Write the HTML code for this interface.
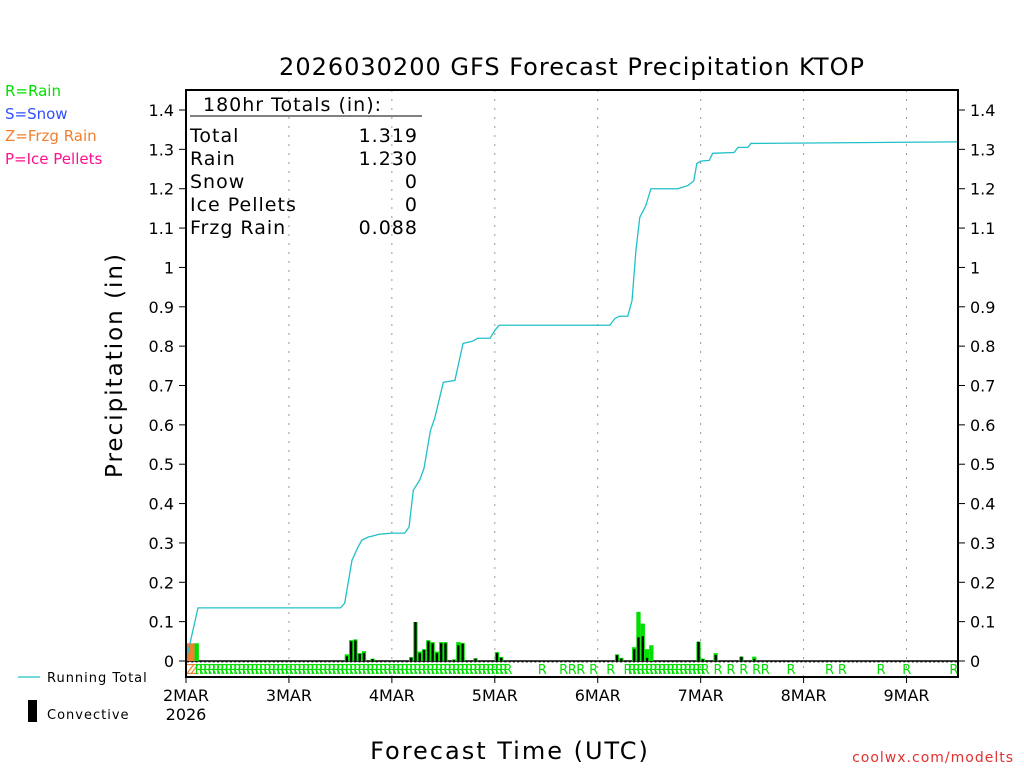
<!DOCTYPE html>
<html><head><meta charset="utf-8"><style>
body{margin:0;background:#fff;width:1024px;height:768px;overflow:hidden}
svg text{font-family:"DejaVu Sans","Liberation Sans",sans-serif}
</style></head><body>
<svg id="c" width="1024" height="768" xmlns="http://www.w3.org/2000/svg">
<text x="572" y="75" text-anchor="middle" font-size="24" fill="#000" letter-spacing="1">2026030200 GFS Forecast Precipitation KTOP</text>
<g font-size="15">
<text x="5" y="96" fill="#00e000">R=Rain</text>
<text x="5" y="119" fill="#3050ff">S=Snow</text>
<text x="5" y="141" fill="#f08030">Z=Frzg Rain</text>
<text x="5" y="164" fill="#ff1090">P=Ice Pellets</text>
</g>
<text transform="translate(122,365) rotate(-90)" text-anchor="middle" font-size="23" letter-spacing="2">Precipitation (in)</text>
<text x="510" y="759" text-anchor="middle" font-size="24" letter-spacing="2">Forecast Time (UTC)</text>
<text x="1014" y="762" text-anchor="end" font-size="14" fill="#e03030" letter-spacing="1">coolwx.com/modelts</text>
<line x1="18" y1="677" x2="40" y2="677" stroke="#20c0c8" stroke-width="1.2"/>
<text x="47" y="682" font-size="13" letter-spacing="1">Running Total</text>
<rect x="28" y="700" width="9" height="22" fill="#000"/>
<text x="47" y="719" font-size="13" letter-spacing="1">Convective</text>
<g id="plot"></g>
<g font-size="19" letter-spacing="1">
<text x="203" y="111">180hr Totals (in):</text>
<line x1="190" y1="116" x2="422" y2="116" stroke="#000"/>
<text x="190" y="142">Total</text><text x="418" y="142" text-anchor="end">1.319</text>
<text x="190" y="165">Rain</text><text x="418" y="165" text-anchor="end">1.230</text>
<text x="190" y="188">Snow</text><text x="418" y="188" text-anchor="end">0</text>
<text x="190" y="211">Ice Pellets</text><text x="418" y="211" text-anchor="end">0</text>
<text x="190" y="234">Frzg Rain</text><text x="418" y="234" text-anchor="end">0.088</text>
</g>
</svg>
<script>
const yTicks=[0,0.1,0.2,0.3,0.4,0.5,0.6,0.7,0.8,0.9,1,1.1,1.2,1.3,1.4];
const dayLabels=["2MAR","3MAR","4MAR","5MAR","6MAR","7MAR","8MAR","9MAR"];
const rainHours=[37,38,39,40,41,43,52,53,54,55,56,57,58,59,60,62,63,64,67,72,73,100,101,104,105,106,107,108,119,120,123,129,132];
const rainTotal=[0.017,0.053,0.055,0.02,0.025,0.006,0.01,0.099,0.024,0.03,0.053,0.048,0.024,0.048,0.048,0.004,0.048,0.046,0.007,0.023,0.01,0.017,0.008,0.035,0.125,0.095,0.03,0.04,0.049,0.006,0.02,0.011,0.011];
const convTotal=[0.012,0.05,0.052,0.018,0.02,0.005,0.008,0.099,0.02,0.028,0.05,0.045,0.02,0.045,0.045,0.003,0.04,0.044,0.006,0.02,0.008,0.015,0.006,0.03,0.06,0.063,0.008,0,0.049,0.004,0.015,0.011,0.005];
const frzgHours=[0,1];
const frzgTotal=[0.045,0.045];
const greenEarlyHours=[2];
const greenEarly=[0.045];
const runHours=[0,2.8,36,37,38.7,40,41,42.5,43.3,45,48,51,52,53,54.5,55.5,57,58,60,62.7,64.6,66.7,68,70.9,72,73,98.8,100,101,103,104,104.9,105.8,107.2,108.4,114.7,117,118.4,119.1,120,122,122.8,127.8,128.7,131,131.7,180];
const runVals=[0,0.135,0.135,0.147,0.256,0.287,0.307,0.315,0.317,0.322,0.325,0.325,0.34,0.434,0.46,0.49,0.586,0.617,0.708,0.713,0.807,0.812,0.82,0.82,0.84,0.853,0.853,0.87,0.876,0.876,0.916,1.043,1.127,1.157,1.2,1.2,1.208,1.22,1.264,1.27,1.272,1.29,1.292,1.305,1.305,1.315,1.319];
const rMarkerHours=[];
for(let h=2;h<=74;h++)rMarkerHours.push(h);
const rSparse=[82,87,89,91,94,98,102,103,104,105,106,107,108,109,110,111,112,113,114,115,116,117,118,119,120,123,126,129,132,134,140,149,152,161,167,178];
const NS="http://www.w3.org/2000/svg";
const L=186,R=958,T=90,B=677,Y0=661,PX=(Y0-110)/1.4;
const X=h=>L+h*(R-L)/180;
const Y=v=>Y0-v*PX;
const g=document.getElementById('plot');
function mk(t,a){const e=document.createElementNS(NS,t);for(const k in a)e.setAttribute(k,a[k]);g.appendChild(e);return e;}
dayLabels.forEach((d,i)=>{const x=X(i*24);
 if(i>0){const l=mk('line',{x1:x,y1:T,x2:x,y2:B,stroke:'#999','stroke-dasharray':'2,7'});
 
 }
 mk('line',{x1:x,y1:B,x2:x,y2:B+6,stroke:'#000'});
 const t=mk('text',{x:x,y:B+24,'text-anchor':'middle','font-size':'16'});t.textContent=d;
 
 
});
const yr=mk('text',{x:L,y:B+43,'text-anchor':'middle','font-size':'16'});yr.textContent='2026';


yTicks.forEach(v=>{const y=Y(v);const lab=(v===0||v===1)?String(v):v.toFixed(1);
 mk('line',{x1:L-7,y1:y,x2:L,y2:y,stroke:'#000'});mk('line',{x1:R,y1:y,x2:R+7,y2:y,stroke:'#000'});
 const a=mk('text',{x:L-12,y:y+6,'text-anchor':'end','font-size':'16'});a.textContent=lab;
 
 
 const b=mk('text',{x:R+12,y:y+6,'font-size':'16'});b.textContent=lab;
 
 
});
for(let h=0;h<180;h++){mk('line',{x1:X(h)+1,y1:Y0+1,x2:X(h)+3,y2:Y0+1,stroke:'#333','stroke-width':1});}
mk('line',{x1:L,y1:Y0,x2:R,y2:Y0,stroke:'#000','stroke-width':1.5});
const bw=(R-L)/180;
frzgHours.forEach((h,i)=>{const r=mk('rect',{x:X(h),y:Y(frzgTotal[i]),width:bw+0.3,height:Y0-Y(frzgTotal[i]),fill:'#f08030'});
 
 });
greenEarlyHours.forEach((h,i)=>{const r=mk('rect',{x:X(h),y:Y(greenEarly[i]),width:bw,height:Y0-Y(greenEarly[i]),fill:'#00e000'});
 
 });
rainHours.forEach((h,i)=>{const v=rainTotal[i],c=convTotal[i];
 const r=mk('rect',{x:X(h),y:Y(v),width:bw,height:Y0-Y(v),fill:'#00e000'});
 
 
 if(c>0){const k=mk('rect',{x:X(h)+1,y:Y(c),width:bw-2,height:Y0-Y(c),fill:'#000'});
 
 }
});
const rg=document.createElementNS(NS,'g');rg.setAttribute('font-size','13');rg.setAttribute('fill','#00e000');g.appendChild(rg);


function rt(h,ch,col){const t=document.createElementNS(NS,'text');t.setAttribute('x',X(h));t.setAttribute('y',Y0+13);if(col)t.setAttribute('fill',col);t.textContent=ch;rg.appendChild(t);}
rt(0,'Z','#f08030');rt(1,'Z','#f08030');
rMarkerHours.forEach(h=>rt(h,'R'));
rSparse.forEach(h=>rt(h,'R'));
const p=mk('polyline',{points:runHours.map((h,i)=>X(h)+','+Y(runVals[i])).join(' '),fill:'none',stroke:'#20c0c8','stroke-width':1.3});


const box=mk('rect',{x:L,y:T,width:R-L,height:B-T,fill:'none',stroke:'#000','stroke-width':2});


</script>
</body></html>
